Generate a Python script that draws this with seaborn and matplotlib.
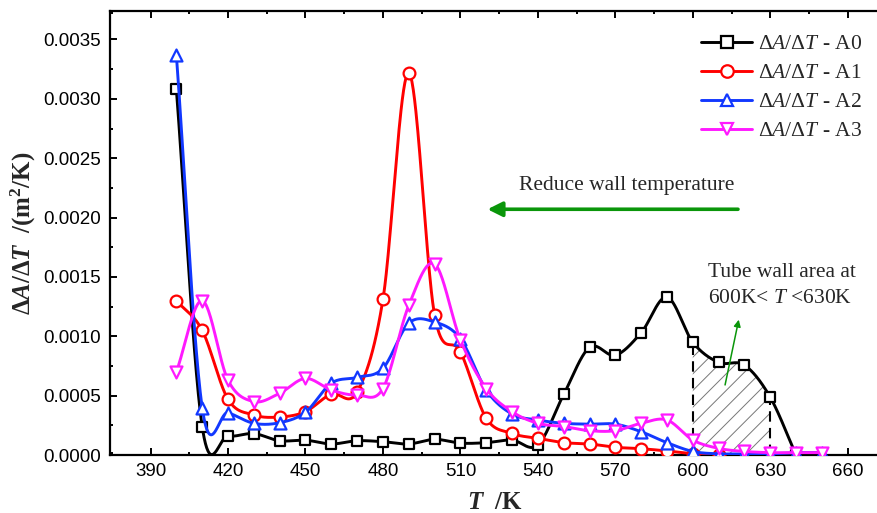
import numpy as np
import matplotlib
matplotlib.use("Agg")
import matplotlib.pyplot as plt
import seaborn as sns
from matplotlib.lines import Line2D
from matplotlib.ticker import MultipleLocator, FormatStrFormatter

# ---- data: dA/dT (m^2/K) versus wall temperature T (K) ----
T_A0 = [400, 410, 420, 430, 440, 450, 460, 470, 480, 490, 500, 510, 520,
        530, 540, 550, 560, 570, 580, 590, 600, 610, 620, 630, 640]
A0 = [0.00308, 0.00024, 0.00016, 0.00018, 0.00012, 0.000125, 0.000093,
      0.00012, 0.000112, 0.000093, 0.000132, 0.0001, 0.000104, 0.000126,
      0.000084, 0.00051, 0.000906, 0.00084, 0.00103, 0.00133, 0.00095,
      0.00078, 0.000757, 0.000486, 0.0]

T_A1 = [400, 410, 420, 430, 440, 450, 460, 470, 480, 490, 500, 510, 520,
        530, 540, 550, 560, 570, 580, 590, 600, 610]
A1 = [0.0013, 0.00105, 0.00047, 0.000337, 0.00032, 0.000365, 0.000513,
      0.00053, 0.00131, 0.00322, 0.00118, 0.00087, 0.00031, 0.000182,
      0.00014, 0.000104, 0.000093, 0.000065, 0.000053, 0.000034, 0.00001, 0.0]

T_A2 = [400, 410, 420, 430, 440, 450, 460, 470, 480, 490, 500, 510, 520,
        530, 540, 550, 560, 570, 580, 590, 600, 610, 620, 630, 640, 650]
A2 = [0.00337, 0.0004, 0.000356, 0.000267, 0.000272, 0.00036, 0.000605,
      0.000654, 0.00073, 0.00111, 0.00112, 0.00098, 0.000547, 0.000345,
      0.000295, 0.000267, 0.00026, 0.00026, 0.000196, 0.000104, 0.00003,
      0.00001, 0.00001, 0.00001, 0.00002, 0.00002]

T_A3 = [400, 410, 420, 430, 440, 450, 460, 470, 480, 490, 500, 510, 520,
        530, 540, 550, 560, 570, 580, 590, 600, 610, 620, 630, 640, 650]
A3 = [0.0007, 0.0013, 0.00063, 0.00045, 0.00052, 0.000645, 0.000547,
      0.000505, 0.00056, 0.00126, 0.00161, 0.00097, 0.00056, 0.000365,
      0.000267, 0.00024, 0.000205, 0.000205, 0.000267, 0.000295, 0.000126,
      0.000056, 0.00003, 0.00002, 0.00002, 0.00002]

series_names = ["A0", "A1", "A2", "A3"]
colors = ["#000000", "#ff0000", "#1238ff", "#ff19ff"]
markers = ["s", "o", "^", "v"]
marker_sizes = [52, 72, 74, 74]

band_low, band_high = 600, 630

sns.set_theme(style="ticks")
plt.rcParams.update({
    "font.family": ["Liberation Sans", "DejaVu Sans"],
    "mathtext.fontset": "custom",
    "mathtext.rm": "Liberation Serif",
    "mathtext.it": "Liberation Serif:italic",
    "mathtext.bf": "Liberation Serif:bold",
    "mathtext.bfit": "Liberation Serif:italic:bold",
    "hatch.linewidth": 0.7,
    "hatch.color": "#777777",
})
SERIF = ["Liberation Serif", "DejaVu Serif"]


def smooth_curve(x, y, per=40):
    """Catmull-Rom style cubic Hermite curve through every point."""
    x = np.asarray(x, float)
    y = np.asarray(y, float)
    n = len(x)
    m = np.empty(n)
    m[1:-1] = (y[2:] - y[:-2]) / (x[2:] - x[:-2])
    m[0] = (y[1] - y[0]) / (x[1] - x[0])
    m[-1] = (y[-1] - y[-2]) / (x[-1] - x[-2])
    xs_all, ys_all = [], []
    t = np.linspace(0, 1, per, endpoint=False)
    for i in range(n - 1):
        h = x[i + 1] - x[i]
        h00 = 2 * t ** 3 - 3 * t ** 2 + 1
        h10 = t ** 3 - 2 * t ** 2 + t
        h01 = -2 * t ** 3 + 3 * t ** 2
        h11 = t ** 3 - t ** 2
        xs_all.append(x[i] + t * h)
        ys_all.append(h00 * y[i] + h10 * h * m[i] + h01 * y[i + 1]
                      + h11 * h * m[i + 1])
    xs_all.append([x[-1]])
    ys_all.append([y[-1]])
    return np.concatenate(xs_all), np.concatenate(ys_all)


fig = plt.figure(figsize=(8.77, 5.13), dpi=100)
ax = fig.add_axes([110 / 877, 58 / 513, 770 / 877, 444 / 513])

all_T = [T_A0, T_A1, T_A2, T_A3]
all_V = [A0, A1, A2, A3]
handles = []
for k, (tt, vv, c, m, s, name) in enumerate(zip(all_T, all_V, colors, markers,
                                              marker_sizes, series_names)):
    xs, ys = smooth_curve(tt, vv)
    sns.lineplot(x=xs, y=ys, color=c, lw=2.1, estimator=None, ax=ax,
                 zorder=3 + 2 * k)
    sns.scatterplot(x=tt, y=vv, marker=m, s=s, color="white", edgecolor=c,
                    linewidth=1.6, ax=ax, zorder=4 + 2 * k)
    handles.append(Line2D([], [], color=c, lw=2.1, marker=m, ms=9,
                          mfc="white", mec=c, mew=1.6,
                          label=r"$\Delta A/\Delta T$" + " - " + name))

# hatched band under A0 between 600 K and 630 K
xs0, ys0 = smooth_curve(T_A0, A0, per=200)
band = (xs0 >= band_low) & (xs0 <= band_high)
ax.fill_between(xs0[band], 0, ys0[band], facecolor="white", hatch="//",
                edgecolor="#777777", linewidth=0, zorder=2)
ax.vlines([band_low, band_high], 0,
          [A0[T_A0.index(band_low)], A0[T_A0.index(band_high)]],
          colors="black", linestyles=(0, (5, 3)), lw=1.5, zorder=2.5)

# axes
ax.set_xlim(374.3, 672.5)
ax.set_ylim(0, 0.00374)
ax.xaxis.set_major_locator(MultipleLocator(30))
ax.xaxis.set_minor_locator(MultipleLocator(15))
ax.yaxis.set_major_locator(MultipleLocator(0.0005))
ax.yaxis.set_minor_locator(MultipleLocator(0.00025))
ax.yaxis.set_major_formatter(FormatStrFormatter("%.4f"))
ax.tick_params(which="both", direction="in", top=True, right=False,
               width=1.4, labelsize=13.5, color="black", labelcolor="black")
ax.tick_params(which="major", length=5)
ax.tick_params(which="minor", length=2.5)
ax.tick_params(axis="x", which="major", pad=6)
ax.tick_params(axis="y", which="major", pad=6.5)
for side in ["left", "bottom", "top"]:
    ax.spines[side].set_linewidth(1.6)
    ax.spines[side].set_color("black")
ax.spines["right"].set_visible(False)
ax.set_facecolor("white")
ax.grid(False)

ax.set_xlabel(r"$\mathbfit{T}\ \ \mathbf{/K}$", fontsize=18, labelpad=7)
ax.set_ylabel(r"$\mathbf{\Delta}\mathbfit{A}\mathbf{/\Delta}\mathbfit{T}\ \ \mathbf{/(m^{2}/K)}$",
              fontsize=18, labelpad=4)

leg = ax.legend(handles=handles, loc="upper right",
                bbox_to_anchor=((862 - 110) / 770, (455 - 34) / 444),
                frameon=False, borderaxespad=0, borderpad=0,
                handlelength=2.4, handletextpad=0.25, labelspacing=0.42,
                prop={"family": SERIF, "size": 15.5})

# annotations
green = "#0a960a"
ax.annotate("", xy=(520.5, 0.00207), xytext=(617.5, 0.00207),
            arrowprops=dict(arrowstyle="-|>", color=green, lw=2.6,
                            mutation_scale=22, shrinkA=0, shrinkB=0),
            zorder=12)
ax.text(574.4, 0.00227, "Reduce wall temperature", family=SERIF, fontsize=15.5,
        ha="center", va="center", zorder=12)

ax.annotate("", xy=(617.8, 0.00114), xytext=(612.5, 0.00059),
            arrowprops=dict(arrowstyle="-|>", color=green, lw=1.1,
                            mutation_scale=10, shrinkA=0, shrinkB=0),
            zorder=12)
ax.text(605.7, 0.00154, "Tube wall area at", family=SERIF, fontsize=15.5,
        ha="left", va="center", zorder=12)
ax.text(605.7, 0.00132, r"600K< $T$ <630K", family=SERIF, fontsize=15.5,
        ha="left", va="center", zorder=12)

fig.savefig("out.png", dpi=100, facecolor="white")
